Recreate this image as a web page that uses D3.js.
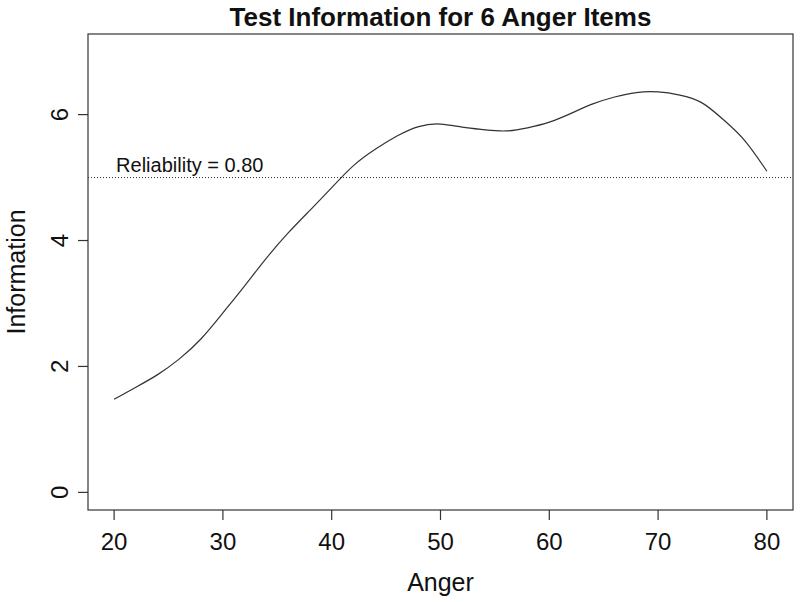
<!DOCTYPE html>
<html>
<head>
<meta charset="utf-8">
<script src="https://cdn.jsdelivr.net/npm/d3@7"></script>
<style>
  body { margin: 0; background: #fff; }
  svg { display: block; font-family: "Liberation Sans", Arial, sans-serif; }
</style>
</head>
<body>
<script>
// Data
const anger = [20,22,24,26,28,30,32,34,36,38,40,42,44,46,48,50,52,54,56,58,60,62,64,66,68,70,72,74,76,78,80];
const information = [1.48,1.67,1.87,2.12,2.44,2.85,3.28,3.72,4.12,4.48,4.84,5.19,5.45,5.66,5.81,5.85,5.80,5.76,5.74,5.79,5.88,6.02,6.17,6.28,6.35,6.36,6.31,6.19,5.92,5.58,5.10];
const xTicks = [20,30,40,50,60,70,80];
const yTicks = [0,2,4,6];
const reliabilityLevel = 5;
const reliabilityLabel = "Reliability = 0.80";
const titleText = "Test Information for 6 Anger Items";
const xLabel = "Anger";
const yLabel = "Information";

const W = 800, H = 602;
const mL = 88, mR = 793, mT = 34, mB = 510;
const ink = "#333";

const svg = d3.select("body").append("svg").attr("width", W).attr("height", H);

// R-style 4% extension
const x = d3.scaleLinear().domain([20 - 2.4, 80 + 2.4]).range([mL, mR]);
const y = d3.scaleLinear().domain([0 - 0.28, 7 + 0.28]).range([mB, mT]);

// box
svg.append("rect").attr("x", mL).attr("y", mT).attr("width", mR - mL).attr("height", mB - mT)
  .attr("fill", "none").attr("stroke", ink).attr("stroke-width", 1.2);

// x axis
const xa = svg.append("g");
xa.selectAll("line").data(xTicks).join("line")
  .attr("x1", d => x(d)).attr("x2", d => x(d)).attr("y1", mB).attr("y2", mB + 10)
  .attr("stroke", ink).attr("stroke-width", 1.2);
xa.selectAll("text").data(xTicks).join("text")
  .attr("x", d => x(d)).attr("y", 550).attr("text-anchor", "middle")
  .attr("font-size", 24).attr("fill", "#111").text(d => d);

// y axis
const ya = svg.append("g");
ya.selectAll("line").data(yTicks).join("line")
  .attr("x1", mL).attr("x2", mL - 10).attr("y1", d => y(d)).attr("y2", d => y(d))
  .attr("stroke", ink).attr("stroke-width", 1.2);
ya.selectAll("text").data(yTicks).join("text")
  .attr("transform", d => `translate(68,${y(d)}) rotate(-90)`).attr("text-anchor", "middle")
  .attr("font-size", 24).attr("fill", "#111").text(d => d);

// labels
svg.append("text").attr("x", (mL + mR) / 2).attr("y", 26).attr("text-anchor", "middle")
  .attr("font-size", 26).attr("font-weight", "bold").attr("fill", "#111").text(titleText);
svg.append("text").attr("x", (mL + mR) / 2).attr("y", 591).attr("text-anchor", "middle")
  .attr("font-size", 25).attr("fill", "#111").text(xLabel);
svg.append("text").attr("transform", `translate(25,${(mT + mB) / 2}) rotate(-90)`).attr("text-anchor", "middle")
  .attr("font-size", 25).attr("fill", "#111").text(yLabel);

// reliability line
svg.append("line").attr("x1", mL).attr("x2", mR).attr("y1", y(reliabilityLevel)).attr("y2", y(reliabilityLevel))
  .attr("stroke", ink).attr("stroke-width", 1).attr("stroke-dasharray", "1,2");
svg.append("text").attr("x", x(20) + 2).attr("y", y(reliabilityLevel) - 6)
  .attr("font-size", 20).attr("fill", "#111").text(reliabilityLabel);

// curve
const line = d3.line().x((d, i) => x(anger[i])).y(d => y(d)).curve(d3.curveNatural);
svg.append("path").datum(information).attr("d", line)
  .attr("fill", "none").attr("stroke", ink).attr("stroke-width", 1.2);
</script>
</body>
</html>
